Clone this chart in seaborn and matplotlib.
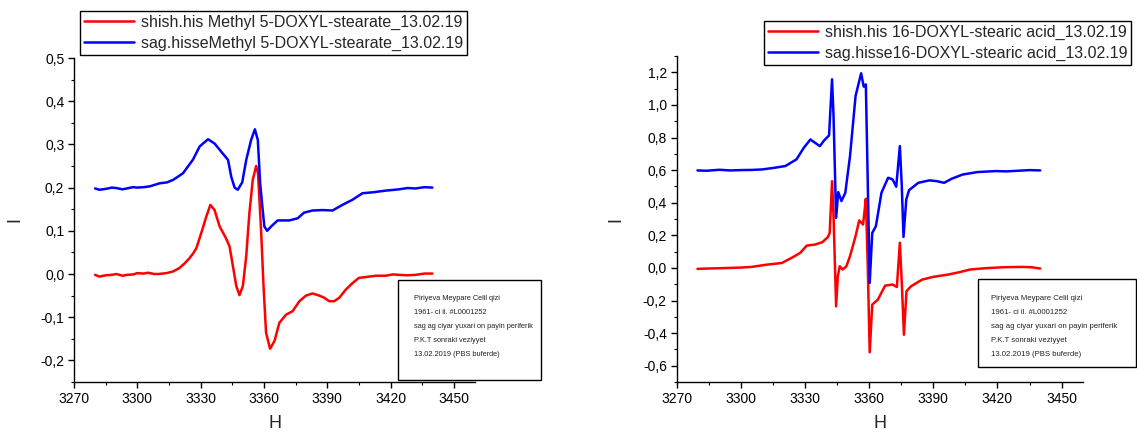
import matplotlib
matplotlib.use("Agg")
import matplotlib.pyplot as plt
from matplotlib.ticker import MultipleLocator, FuncFormatter
from matplotlib.patches import Rectangle
import seaborn as sns
import pandas as pd

# ---------------- data ----------------
# Left panel: Methyl 5-DOXYL-stearate
h_left_red = [3280, 3282, 3285, 3288, 3290, 3293, 3295, 3298, 3300, 3303, 3305, 3308, 3310, 3313.8,
              3317, 3320, 3322.5, 3324.8, 3326.5, 3328, 3330.3, 3332.7,
              3334.6, 3336.6, 3339, 3342, 3343.7, 3345.3, 3346.9, 3348.4, 3350, 3351.6, 3353.1,
              3354.7, 3356.3, 3357.2, 3358.7, 3359.8, 3361, 3362.9, 3365, 3367.3, 3370.5, 3373.6,
              3376.8, 3379.9, 3383, 3386.2, 3388.6, 3390.9, 3393.3, 3395.7, 3398.8, 3402, 3405,
              3408.3, 3413, 3417.7, 3421, 3424, 3428, 3431.9, 3436, 3439.8]
i_left_red = [-0.002, -0.006, -0.003, -0.002, 0.000, -0.004, -0.002, -0.001, 0.002, 0.001, 0.003, 0.000,
              0.000, 0.002, 0.006, 0.014, 0.025, 0.037, 0.048, 0.060, 0.095, 0.133,
              0.160, 0.148, 0.110, 0.083, 0.064, 0.018, -0.028, -0.049, -0.028, 0.041, 0.141,
              0.218, 0.250, 0.233, 0.095, -0.028, -0.136, -0.173, -0.155, -0.113, -0.094, -0.086,
              -0.063, -0.050, -0.045, -0.050, -0.055, -0.063, -0.063, -0.055, -0.036, -0.021, -0.009,
              -0.007, -0.004, -0.004, -0.001, -0.002, -0.003, -0.002, 0.001, 0.001]

h_left_blue = [3280, 3282, 3285, 3288, 3290, 3293, 3295, 3298, 3300, 3303, 3306, 3310.6, 3314,
               3317, 3321.6, 3326.4, 3329.5, 3333.5,
               3336.6, 3339.8, 3343, 3344.5, 3346.1, 3347.6, 3349.7, 3351.6, 3353.9, 3355.7, 3357.1,
               3358.2, 3359.4, 3360.2, 3361.5, 3363.4, 3366.5, 3372, 3376, 3379, 3383, 3387.8,
               3392.5, 3397.2, 3402, 3406.7, 3411.4, 3417.7, 3424, 3428, 3431.9, 3436, 3439.8]
i_left_blue = [0.198, 0.195, 0.197, 0.200, 0.199, 0.196, 0.198, 0.201, 0.200, 0.201, 0.203, 0.210, 0.212,
               0.218, 0.233, 0.265, 0.295, 0.312,
               0.302, 0.283, 0.264, 0.225, 0.200, 0.195, 0.212, 0.264, 0.310, 0.335, 0.310,
               0.210, 0.148, 0.110, 0.100, 0.110, 0.124, 0.124, 0.129, 0.142, 0.147, 0.148,
               0.147, 0.160, 0.172, 0.187, 0.189, 0.193, 0.196, 0.199, 0.198, 0.201, 0.200]

# Right panel: 16-DOXYL-stearic acid
h_right_red = [3279.8, 3284, 3290, 3295, 3300, 3305, 3312.3, 3319.2, 3324.4, 3327.8, 3330.9, 3334.7, 3338.2,
               3340.8, 3341.6, 3342.7, 3343.4, 3344.6, 3345.4, 3346.3, 3347.7, 3349.4, 3351.1, 3353.7,
               3355.4, 3357.2, 3357.8, 3358.5, 3359.4, 3360.3, 3361.5, 3364.1, 3367.5, 3371, 3373,
               3374.4, 3375.3, 3376.3, 3377.5, 3379.6, 3384.8, 3390, 3396.9, 3402, 3407.2, 3414.1,
               3422.7, 3431.4, 3436, 3440]
i_right_red = [-0.006, -0.004, -0.002, 0.000, 0.002, 0.006, 0.020, 0.030, 0.066, 0.092, 0.137, 0.143,
               0.158, 0.190, 0.215, 0.532, 0.317, -0.236, -0.051, 0.010, -0.010, 0.010, 0.072, 0.195,
               0.291, 0.266, 0.338, 0.424, 0.010, -0.518, -0.225, -0.195, -0.109, -0.102, -0.117,
               0.154, -0.092, -0.410, -0.143, -0.113, -0.072, -0.055, -0.041, -0.027, -0.010, -0.002,
               0.004, 0.006, 0.004, -0.004]

h_right_blue = [3279.8, 3284, 3290, 3295, 3300, 3305, 3310, 3315.7, 3320.9, 3326.1, 3329.5, 3332.6,
                3334.7, 3337, 3339, 3341.3, 3342.7, 3343.4, 3344.6, 3345.6, 3347.1, 3348.9, 3351.1,
                3353.7, 3356.3, 3357.5, 3358.5, 3359.4, 3360.3, 3361.5, 3363.2, 3365.8, 3368.9,
                3371, 3372.7, 3374.4, 3375.3, 3376.1, 3377.4, 3378.7, 3383, 3388.2, 3391.7,
                3395.1, 3398.6, 3403.8, 3410.7, 3419.3, 3424, 3429.6, 3435, 3440]
i_right_blue = [0.598, 0.596, 0.602, 0.598, 0.600, 0.601, 0.604, 0.614, 0.625, 0.666, 0.737, 0.788,
                0.768, 0.747, 0.782, 0.813, 1.157, 0.932, 0.307, 0.465, 0.410, 0.461, 0.686,
                1.055, 1.194, 1.112, 1.126, 0.522, -0.092, 0.215, 0.256, 0.461, 0.553,
                0.543, 0.498, 0.747, 0.502, 0.190, 0.420, 0.477, 0.522, 0.537, 0.532,
                0.522, 0.547, 0.573, 0.588, 0.594, 0.592, 0.596, 0.600, 0.598]

labels_left = ["shish.his Methyl 5-DOXYL-stearate_13.02.19",
               "sag.hisseMethyl 5-DOXYL-stearate_13.02.19"]
labels_right = ["shish.his 16-DOXYL-stearic acid_13.02.19",
                "sag.hisse16-DOXYL-stearic acid_13.02.19"]
note_lines = ["Piriyeva Meypare Celil qizi",
              "1961- ci il. #L0001252",
              "sag ag ciyar yuxari on payin periferik",
              "P.K.T sonraki veziyyet",
              "13.02.2019 (PBS buferde)"]
x_ticks = [3270, 3300, 3330, 3360, 3390, 3420, 3450]

# ---------------- style ----------------
sns.set_style("ticks")
plt.rcParams['font.family'] = ['Liberation Sans', 'DejaVu Sans']

W, H = 1137, 432
fig = plt.figure(figsize=(W / 100, H / 100), dpi=100)

def px_rect(l, t, r, b):
    return [l / W, 1 - b / H, (r - l) / W, (b - t) / H]

ax1 = fig.add_axes(px_rect(74, 58, 475, 382))
ax2 = fig.add_axes(px_rect(676.5, 56, 1083, 382))

comma = FuncFormatter(lambda v, p: f"{v:.1f}".replace('.', ','))

def draw(ax, hr, ir, hb, ib, labels, ylim, ymin, yticks):
    df_r = pd.DataFrame({"H": hr, "I": ir})
    df_b = pd.DataFrame({"H": hb, "I": ib})
    sns.lineplot(data=df_r, x="H", y="I", ax=ax, color="#ff0000", lw=1.8, label=labels[0], sort=False)
    sns.lineplot(data=df_b, x="H", y="I", ax=ax, color="#0000ff", lw=1.8, label=labels[1], sort=False)
    ax.set_xlim(3270, 3460)
    ax.set_ylim(*ylim)
    ax.set_xticks(x_ticks)
    ax.xaxis.set_minor_locator(MultipleLocator(15))
    ax.set_yticks(yticks)
    ax.yaxis.set_minor_locator(MultipleLocator(ymin))
    ax.yaxis.set_major_formatter(comma)
    for s in ["top", "right"]:
        ax.spines[s].set_visible(False)
    for s in ["left", "bottom"]:
        ax.spines[s].set_color("black")
        ax.spines[s].set_linewidth(1.0)
    ax.tick_params(axis="both", which="major", direction="out", length=4.5, width=1,
                   labelsize=10, colors="black", pad=2.5)
    ax.tick_params(axis="both", which="minor", direction="out", length=2.5, width=0.8, colors="black")
    ax.set_xlabel("H", fontsize=13)
    ax.set_ylabel("I", fontsize=13)
    ax.xaxis.label.set_va("center")
    ax.yaxis.label.set_va("center")
    ax.get_legend().remove()

draw(ax1, h_left_red, i_left_red, h_left_blue, i_left_blue, labels_left,
     (-0.25, 0.5), 0.05, [-0.2, -0.1, 0.0, 0.1, 0.2, 0.3, 0.4, 0.5])
draw(ax2, h_right_red, i_right_red, h_right_blue, i_right_blue, labels_right,
     (-0.7, 1.3), 0.1, [-0.6, -0.4, -0.2, 0.0, 0.2, 0.4, 0.6, 0.8, 1.0, 1.2])

ax1.yaxis.set_label_coords((15 - 74) / 401, 0.5)
ax2.yaxis.set_label_coords((616 - 676.5) / 406.5, 0.5)
ax1.xaxis.set_label_coords(0.5, (382 - 423) / 324)
ax2.xaxis.set_label_coords(0.5, (382 - 423) / 326)

def legend(ax, l, t):
    h, lab = ax.get_legend_handles_labels()
    leg = fig.legend(h, lab, loc="upper left", bbox_to_anchor=(l / W, 1 - t / H),
                     bbox_transform=fig.transFigure, fontsize=11.5, frameon=True,
                     fancybox=False, edgecolor="black", framealpha=1, handlelength=3.1,
                     borderpad=0.25, labelspacing=0.33, handletextpad=0.45, borderaxespad=0)
    leg.get_frame().set_linewidth(1.0)

legend(ax1, 80, 11)
legend(ax2, 764, 21)

def note(l, t, r, b, dx, fs):
    fig.patches.append(Rectangle((l / W, 1 - b / H), (r - l) / W, (b - t) / H,
                                 transform=fig.transFigure, fill=True, facecolor="white",
                                 edgecolor="black", lw=1.0, zorder=5))
    for k, line in enumerate(note_lines):
        fig.text((l + dx) / W, 1 - (t + 19 + k * 14) / H, line, fontsize=fs,
                 va="center", ha="left", color="#222222", zorder=6)

note(398, 280, 541, 380, 16, 5.3)
note(978, 279, 1136, 367, 13, 5.6)

fig.savefig("out.png", dpi=100)
